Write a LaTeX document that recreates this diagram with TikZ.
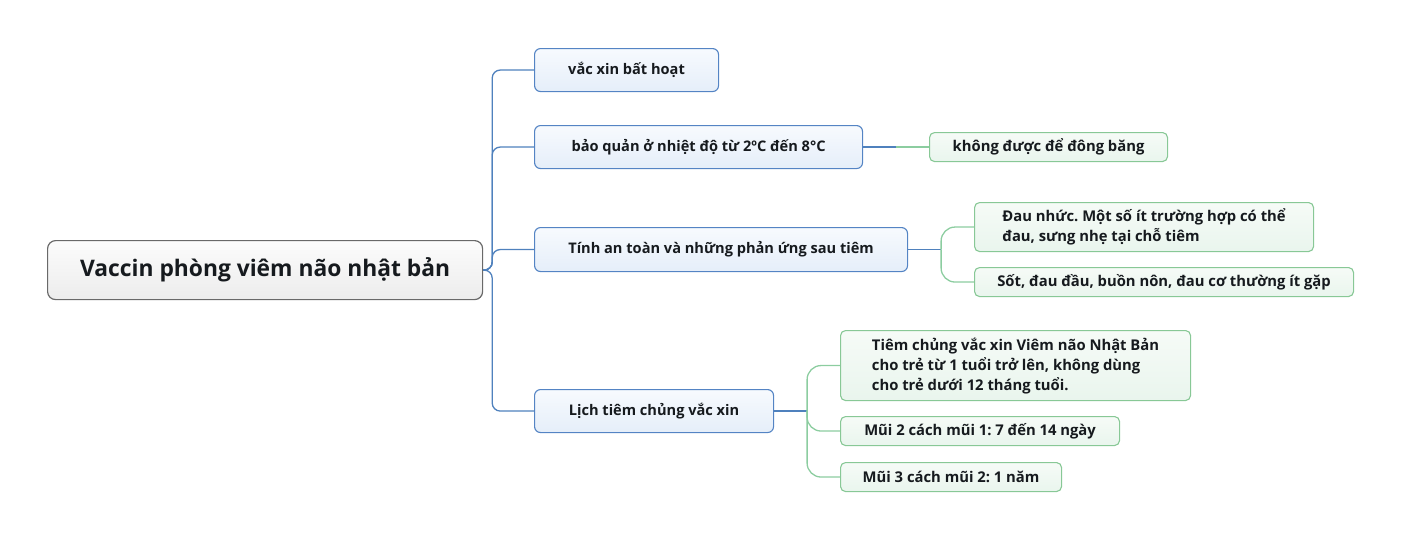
\documentclass[tikz,border=0pt]{standalone}
\usepackage{fontspec}
\setmainfont{Open Sans}
\usepackage{tikz}
\usetikzlibrary{positioning, calc}
\frenchspacing

\definecolor{lineblue}{RGB}{79,129,189}
\definecolor{linegreen}{RGB}{140,205,160}
\definecolor{boxblue}{RGB}{84,132,196}
\definecolor{boxgreen}{RGB}{136,200,150}
\definecolor{textdark}{RGB}{22,26,30}

\begin{document}
\begin{tikzpicture}[
            x=1pt, y=-1pt,
            rootbox/.style={rectangle, rounded corners=8pt, draw={rgb,255:red,105;green,105;blue,105}, line width=1.2pt, top color={rgb,255:red,252;green,252;blue,252}, bottom color={rgb,255:red,236;green,236;blue,236}, anchor=north west, font=\fontsize{22.8}{26}\selectfont\bfseries, text=textdark},
            topic/.style={rectangle, rounded corners=6pt, draw=boxblue, line width=1.1pt, top color={rgb,255:red,247;green,250;blue,254}, bottom color={rgb,255:red,229;green,238;blue,249}, anchor=north west, font=\fontsize{14.6}{19}\selectfont\bfseries, text=textdark},
            leaf/.style={rectangle, rounded corners=5pt, draw=boxgreen, line width=1.1pt, top color={rgb,255:red,246;green,251;blue,247}, bottom color={rgb,255:red,233;green,245;blue,237}, anchor=north west, align=left, font=\fontsize{14.8}{20}\selectfont\bfseries, text=textdark},
            bline/.style={draw=lineblue, line width=1.3pt, rounded corners=8pt},
            gline/.style={draw=linegreen, line width=1.3pt, rounded corners=14pt}
        ]
\useasboundingbox (0,0) rectangle (1401,539);

% Central topic
            \node[rootbox, minimum width=435, minimum height=59] (root) at (47,240) {Vaccin phòng viêm não nhật bản};

% Main branches
            \node[topic, minimum width=184, minimum height=43] (a1) at (534,48) {vắc xin bất hoạt};
            \node[topic, minimum width=328, minimum height=43] (a2) at (534,125) {bảo quản ở nhiệt độ từ 2ºC đến 8°C};
            \node[topic, minimum width=373, minimum height=44] (a3) at (534,227) {Tính an toàn và những phản ứng sau tiêm};
            \node[topic, minimum width=239, minimum height=43] (a4) at (534,389) {Lịch tiêm chủng vắc xin};

% Sub branches
            \node[leaf, minimum width=238, minimum height=29] (b1) at (929,132) {không được để đông băng};
            \node[leaf, minimum width=339, minimum height=49] (b2) at (974,202) {Đau nhức. Một số ít trường hợp có thể\\đau, sưng nhẹ tại chỗ tiêm};
            \node[leaf, minimum width=379, minimum height=29] (b3) at (974,267) {Sốt, đau đầu, buồn nôn, đau cơ thường ít gặp};
            \node[leaf, minimum width=350, minimum height=70] (b4) at (840,330) {Tiêm chủng vắc xin Viêm não Nhật Bản\\cho trẻ từ 1 tuổi trở lên, không dùng\\cho trẻ dưới 12 tháng tuổi.};
            \node[leaf, minimum width=279, minimum height=29] (b5) at (840,416) {Mũi 2 cách mũi 1: 7 đến 14 ngày};
            \node[leaf, minimum width=221, minimum height=29] (b6) at (840,462) {Mũi 3 cách mũi 2: 1 năm};

% Connectors
            \foreach \t in {a1,a2,a3,a4}
                \draw[bline] (root.east) -- ++(9,0) |- (\t.west);

            \draw[bline] (a2.east) -- ++(33,0) coordinate (m2);
            \draw[gline] (m2) -- (b1.west);

            \draw[bline] (a3.east) -- ++(33,0) coordinate (m3);
            \foreach \t in {b2,b3}
                \draw[gline] (m3) |- (\t.west);

            \draw[bline] (a4.east) -- ++(33,0) coordinate (m4);
            \foreach \t in {b4,b5,b6}
                \draw[gline] (m4) |- (\t.west);

        \end{tikzpicture}
\end{document}
